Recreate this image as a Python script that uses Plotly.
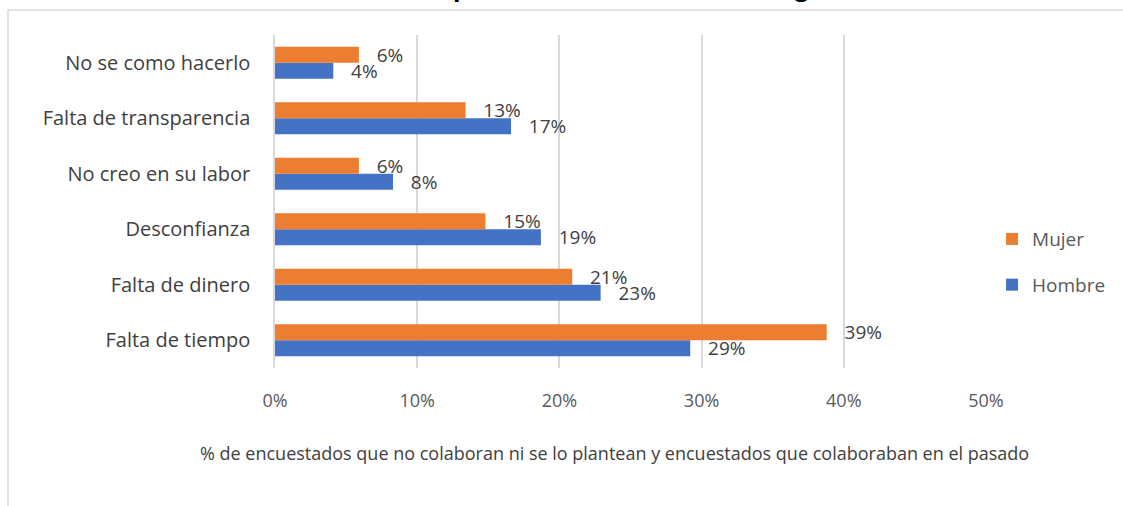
import plotly.graph_objects as go

# categories listed bottom -> top
motivos = ["Falta de tiempo", "Falta de dinero", "Desconfianza",
           "No creo en su labor", "Falta de transparencia", "No se como hacerlo"]
hombre = [0.292, 0.229, 0.187, 0.083, 0.166, 0.041]
mujer = [0.388, 0.209, 0.148, 0.059, 0.134, 0.059]
x_ticks = [0, 0.1, 0.2, 0.3, 0.4, 0.5]
x_labels = ["0%", "10%", "20%", "30%", "40%", "50%"]

titulo = "Motivos para no colaborar con las organizaciones"
eje_x = "% de encuestados que no colaboran ni se lo plantean y encuestados que colaboraban en el pasado"

FONT = "Open Sans, Carlito, Calibri, sans-serif"
PAD = "\u00a0\u00a0\u00a0"

fig = go.Figure()
fig.add_trace(go.Bar(
    y=motivos, x=hombre, name="Hombre", orientation="h", legendrank=2, legendgroup="h",
    marker=dict(color="#4472c4", line=dict(width=0)),
    texttemplate=PAD + "%{x:.0%}", textposition="outside", constraintext="none",
    textfont=dict(size=19, color="#404040"), cliponaxis=False,
))
fig.add_trace(go.Bar(
    y=motivos, x=mujer, name="Mujer", orientation="h", legendrank=1, legendgroup="m",
    marker=dict(color="#ed7d31", line=dict(width=0)),
    texttemplate=PAD + "%{x:.0%}", textposition="outside", constraintext="none",
    textfont=dict(size=19, color="#404040"), cliponaxis=False,
))

fig.update_layout(
    width=1123, height=506,
    paper_bgcolor="white", plot_bgcolor="white",
    font=dict(family=FONT, size=18, color="#595959"),
    margin=dict(l=275, r=137, t=35, b=138, autoexpand=False),
    barmode="group", bargap=0.42, bargroupgap=0,
    showlegend=True,
    legend=dict(traceorder="grouped", x=1.0085, xanchor="left", y=0.318, yanchor="middle",
                font=dict(size=19, color="#595959"), itemwidth=30, tracegroupgap=18),
    shapes=[dict(type="rect", xref="paper", yref="paper",
                 x0=-0.3755, x1=2, y0=-1, y1=1.075,
                 line=dict(color="#d9d9d9", width=1.5), layer="below")],
    annotations=[
        dict(text="<b>" + titulo + "</b>", xref="paper", yref="paper",
             x=0.528, y=1.090, xanchor="center", yanchor="bottom",
             showarrow=False, font=dict(size=24.5, color="#000000")),
        dict(text=eje_x, xref="paper", yref="paper", x=0.477, y=-0.255,
             xanchor="center", yanchor="middle", showarrow=False,
             font=dict(size=18, color="#404040")),
    ],
)
fig.update_xaxes(range=[0, 0.5], tickvals=x_ticks, ticktext=x_labels, automargin=False,
                 showgrid=True, gridcolor="#d9d9d9", gridwidth=1.5, zeroline=False,
                 showline=False, ticks="", ticklabelstandoff=20)
fig.update_yaxes(showgrid=False, showline=True, linecolor="#d9d9d9", linewidth=1.5,
                 automargin=False, ticks="", ticklabelstandoff=19,
                 tickfont=dict(size=20, color="#404040"))

fig.write_html("out.html", config={"displayModeBar": False},
               post_script="document.body.style.margin='0';")
